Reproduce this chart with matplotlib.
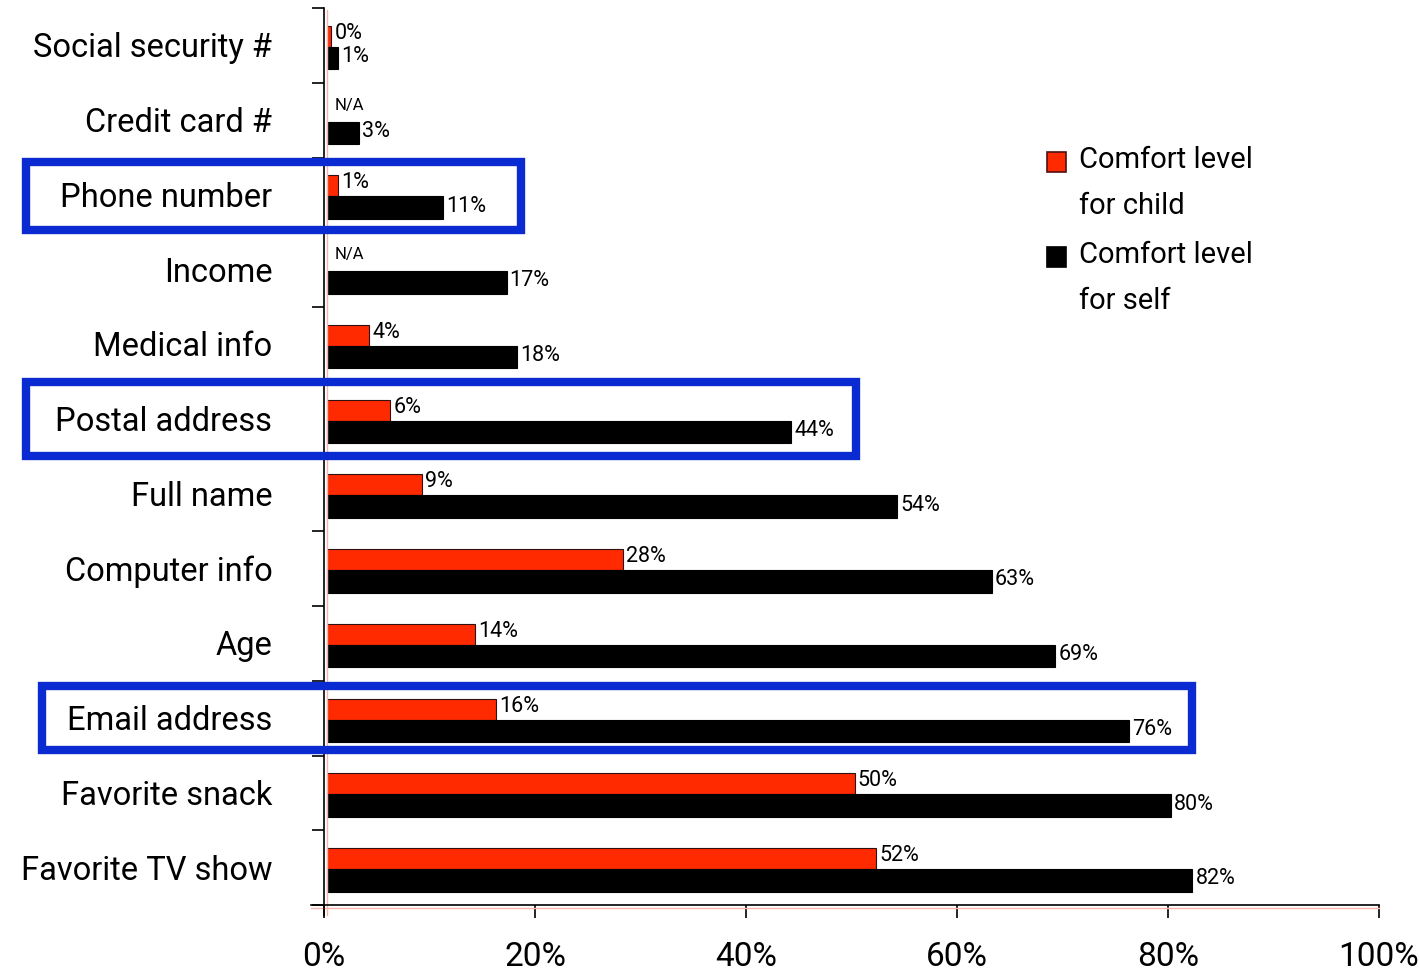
import numpy as np
import matplotlib.pyplot as plt
from matplotlib.patches import Rectangle

plt.rcParams['font.family'] = ['Roboto', 'DejaVu Sans']

# dati
categorie = ["Social security #", "Credit card #", "Phone number", "Income",
             "Medical info", "Postal address", "Full name", "Computer info",
             "Age", "Email address", "Favorite snack", "Favorite TV show"]
figlio = [0.4, np.nan, 1, np.nan, 4, 6, 9, 28, 14, 16, 50, 52]
se_stesso = [1, 3, 11, 17, 18, 44, 54, 63, 69, 76, 80, 82]
tick_x = [0, 20, 40, 60, 80, 100]
legenda = ["Comfort level\nfor child", "Comfort level\nfor self"]
evidenziati = ["Phone number", "Postal address", "Email address"]

rosso = "#FF2A00"
blu = "#0A2AD2"
rosa = "#F8B4AC"

W, H = 1420, 973
fig = plt.figure(figsize=(W / 100, H / 100), dpi=100)
ax = fig.add_axes([324 / W, 1 - 905 / H, 1055 / W, 897 / H])

y = np.arange(len(categorie))
off = 0.3
ax.barh(y + 0.38, figlio, height=0.28, left=off, color=rosso, edgecolor="#301010", linewidth=0.8)
ax.barh(y + 0.67, se_stesso, height=0.30, left=off, color="black", edgecolor="black", linewidth=0.8)

# etichette valori
for i in range(len(categorie)):
    if np.isnan(figlio[i]):
        ax.text(off + 0.7, i + 0.30, "N/A", fontsize=12, va="center", ha="left")
    else:
        ax.text(off + figlio[i] + 0.3, i + 0.34, f"{figlio[i]:.0f}%", fontsize=15.5, va="center", ha="left")
    ax.text(off + se_stesso[i] + 0.3, i + 0.65, f"{se_stesso[i]}%", fontsize=15.5, va="center", ha="left")

# etichette categorie
for i, c in enumerate(categorie):
    ax.text(-0.049, i + 0.54, c, transform=ax.get_yaxis_transform(),
            fontsize=23.5, ha="right", va="center")

ax.set_xlim(0, 100)
ax.set_ylim(len(categorie), 0)
ax.set_xticks(tick_x)
ax.set_xticklabels([f"{t}%" for t in tick_x], fontsize=24)
ax.set_yticks(np.arange(len(categorie) + 1))
ax.set_yticklabels([])
ax.tick_params(axis="x", direction="out", length=9, width=1.2, pad=17)
ax.tick_params(axis="y", direction="out", length=9, width=1.2)
for s in ["top", "right"]:
    ax.spines[s].set_visible(False)
ax.spines["left"].set_linewidth(1.2)
ax.spines["bottom"].set_linewidth(1.2)
ax.spines["left"].set_bounds(len(categorie) + 0.14, 0)
ax.spines["bottom"].set_bounds(-1.2, 100)

# linee rosa
ax.plot([0.3, 0.3], [0.03, 12.13], color=rosa, lw=1, clip_on=False)
ax.plot([-1.2, 100], [12.04, 12.04], color=rosa, lw=1, clip_on=False)

# legenda
for k, (lab, col) in enumerate(zip(legenda, [rosso, "black"])):
    y0 = 152 + k * 95
    fig.add_artist(Rectangle((1047 / W, 1 - (y0 + 20) / H), 19 / W, 20 / H,
                             transform=fig.transFigure, facecolor=col,
                             edgecolor="#501010" if k == 0 else "black", lw=1.2))
    fig.text(1079 / W, 1 - (y0 - 6) / H, lab, fontsize=21, va="top", ha="left",
             linespacing=1.8)

# riquadri blu (pixel, linea centrale)
riquadri = {"Phone number": (26, 162, 521, 230),
            "Postal address": (26, 382, 856, 456),
            "Email address": (42, 686, 1192, 750)}
for nome in evidenziati:
    x0, y0, x1, y1 = riquadri[nome]
    fig.add_artist(Rectangle((x0 / W, 1 - y1 / H), (x1 - x0) / W, (y1 - y0) / H,
                             transform=fig.transFigure, fill=False, edgecolor=blu,
                             lw=6, joinstyle="miter"))

fig.savefig("out.png", dpi=100)
